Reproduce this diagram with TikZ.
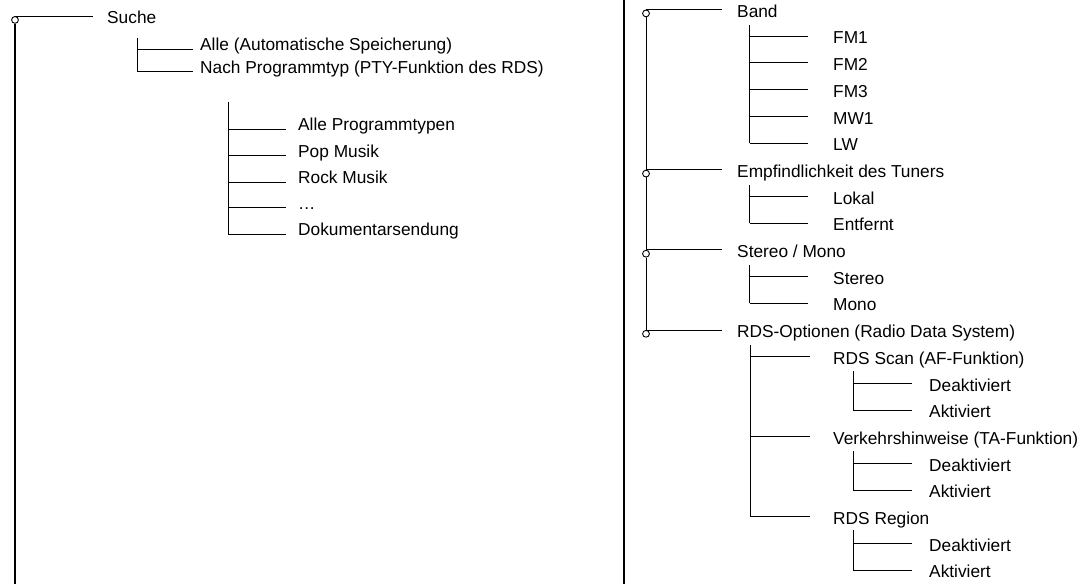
\documentclass[tikz,border=0pt]{standalone}
\usepackage{fontspec}
\setmainfont{Liberation Sans}
\newcommand\lblfont{\fontsize{17.3}{20}\selectfont}
\tikzset{
  tree/.style={line width=0.9pt},
  rail/.style={line width=1.2pt},
  thickrail/.style={line width=2.5pt},
  knob/.style={circle, draw, line width=0.9pt, fill=white, inner sep=0pt, minimum size=6.8pt},
  tl/.style={anchor=west, inner sep=0pt, text height=15.4pt, text depth=0pt, font=\lblfont},
  bl/.style={anchor=west, inner sep=0pt, text height=3.4pt, text depth=0pt, font=\lblfont},
}
\begin{document}
\begin{tikzpicture}[x=1pt, y=-1pt]
\useasboundingbox (0,0) rectangle (1083,584);
% ---------- separator ----------
\coordinate (rt) at (624,0);
\coordinate (rb) at (624,584);
\draw[thickrail] (rt) -- (rb);

% ---------- left tree ----------
\node[knob] (lk0) at (15,19.9) {};
\node[tl] (suche) at (107,16) {Suche};
\coordinate (lbot) at (15,584);
\draw[rail] (lk0) -- (lbot);
\draw[tree, shorten >=14pt] (lk0.north) -- (lk0.north -| suche.west);

\node[bl] (alle) at (200,49) {Alle (Automatische Speicherung)};
\node[bl] (nach) at (200,71.3) {Nach Programmtyp (PTY-Funktion des RDS)};
\coordinate (lv2) at (137,38);
\draw[tree] (lv2) -- (lv2 |- nach.west);
\draw[tree, shorten >=7pt] (lv2 |- alle.west) -- (alle.west);
\draw[tree, shorten >=7pt] (lv2 |- nach.west) -- (nach.west);

\node[bl] (pty1) at (298,129) {Alle Programmtypen};
\node[bl] (pty2) at (298,155.5) {Pop Musik};
\node[bl] (pty3) at (298,182) {Rock Musik};
\node[bl] (pty4) at (298,207.5) {\ldots};
\node[bl] (pty5) at (298,234) {Dokumentarsendung};
\coordinate (lv3) at (228,102);
\draw[tree] (lv3) -- (lv3 |- pty5.west);
\foreach \n in {pty1,pty2,pty3,pty4,pty5}
  \draw[tree, shorten >=12pt] (lv3 |- \n.west) -- (\n.west);

% ---------- right tree ----------
\node[knob] (rk1) at (646,13.4) {};
\node[knob] (rk2) at (646,173.6) {};
\node[knob] (rk3) at (646,253.7) {};
\node[knob] (rk4) at (646,333.8) {};
\draw[tree] (rk1) -- (rk2) -- (rk3) -- (rk4);

\node[tl] (band) at (737,9.5) {Band};
\node[tl] (fm1) at (833,36.2) {FM1};
\node[tl] (fm2) at (833,62.9) {FM2};
\node[tl] (fm3) at (833,89.6) {FM3};
\node[tl] (mw1) at (833,116.3) {MW1};
\node[tl] (lw) at (833,143) {LW};
\node[tl] (empf) at (737,169.7) {Empfindlichkeit des Tuners};
\node[tl] (lokal) at (833,196.4) {Lokal};
\node[tl] (entf) at (833,223.1) {Entfernt};
\node[tl] (stm) at (737,249.8) {Stereo / Mono};
\node[tl] (stereo) at (833,276.5) {Stereo};
\node[tl] (mono) at (833,303.2) {Mono};
\node[tl] (rds) at (737,329.9) {RDS-Optionen (Radio Data System)};
\node[tl] (scan) at (833,356.6) {RDS Scan (AF-Funktion)};
\node[tl] (sd1) at (929,383.3) {Deaktiviert};
\node[tl] (sa1) at (929,410) {Aktiviert};
\node[tl] (ta) at (833,436.7) {Verkehrshinweise (TA-Funktion)};
\node[tl] (sd2) at (929,463.4) {Deaktiviert};
\node[tl] (sa2) at (929,490.1) {Aktiviert};
\node[tl] (reg) at (833,516.8) {RDS Region};
\node[tl] (sd3) at (929,543.5) {Deaktiviert};
\node[tl] (sa3) at (929,570.2) {Aktiviert};

% top-level branches
\draw[tree, shorten >=15pt] (rk1.north) -- (rk1.north -| band.west);
\draw[tree, shorten >=15pt] (rk2.north) -- (rk2.north -| empf.west);
\draw[tree, shorten >=15pt] (rk3.north) -- (rk3.north -| stm.west);
\draw[tree, shorten >=15pt] (rk4.north) -- (rk4.north -| rds.west);

% second level
\coordinate (bv) at (749.5,25);
\draw[tree] (bv) -- (bv |- lw.west);
\foreach \n in {fm1,fm2,fm3,mw1,lw}
  \draw[tree, shorten >=25pt] (bv |- \n.west) -- (\n.west);

\coordinate (ev) at (749.5,185);
\draw[tree] (ev) -- (ev |- entf.west);
\foreach \n in {lokal,entf}
  \draw[tree, shorten >=25pt] (ev |- \n.west) -- (\n.west);

\coordinate (sv) at (749.5,265);
\draw[tree] (sv) -- (sv |- mono.west);
\foreach \n in {stereo,mono}
  \draw[tree, shorten >=25pt] (sv |- \n.west) -- (\n.west);

\coordinate (ov) at (750.5,345);
\draw[tree] (ov) -- (ov |- reg.west);
\foreach \n in {scan,ta,reg}
  \draw[tree, shorten >=23pt] (ov |- \n.west) -- (\n.west);

% third level
\coordinate (av) at (853,371);
\draw[tree] (av) -- (av |- sa1.west);
\foreach \n in {sd1,sa1}
  \draw[tree, shorten >=17pt] (av |- \n.west) -- (\n.west);

\coordinate (tv) at (853,451);
\draw[tree] (tv) -- (tv |- sa2.west);
\foreach \n in {sd2,sa2}
  \draw[tree, shorten >=17pt] (tv |- \n.west) -- (\n.west);

\coordinate (gv) at (853,530);
\draw[tree] (gv) -- (gv |- sa3.west);
\foreach \n in {sd3,sa3}
  \draw[tree, shorten >=17pt] (gv |- \n.west) -- (\n.west);
\end{tikzpicture}
\end{document}
